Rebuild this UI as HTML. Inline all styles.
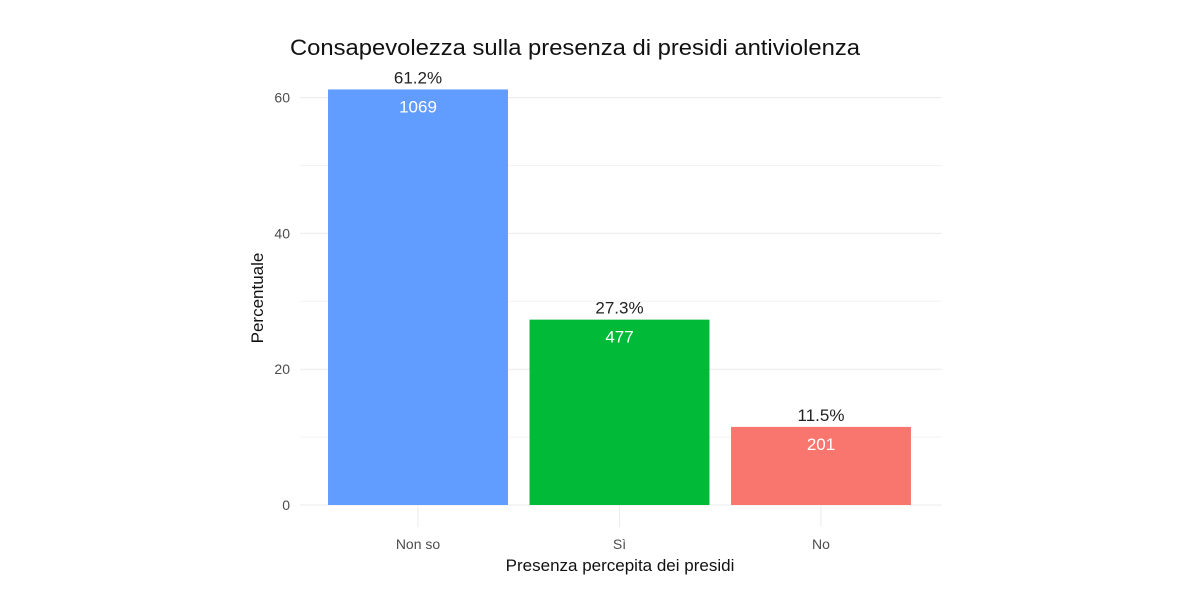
<!DOCTYPE html>
<html><head><meta charset="utf-8"><style>
body{margin:0;background:#fff;}
svg text{font-family:"Liberation Sans",sans-serif;}
</style></head><body>
<svg width="1200" height="587" viewBox="0 0 1200 587">
<text x="290" y="55" font-size="22" textLength="570" lengthAdjust="spacingAndGlyphs" fill="#111">Consapevolezza sulla presenza di presidi antiviolenza</text>
<g id="grid"></g>
<g id="bars"></g>
<g id="axes"></g>
<text x="620" y="571" font-size="17" fill="#111" text-anchor="middle">Presenza percepita dei presidi</text>
<text transform="translate(263,298) rotate(-90)" font-size="17" fill="#111" text-anchor="middle">Percentuale</text>
</svg>
<script>
const categories = ["Non so", "Sì", "No"];
const percents = [61.2, 27.3, 11.5];
const counts = [1069, 477, 201];
const colors = ["#619CFF", "#00BA38", "#F8766D"];
const yTicks = [0, 20, 40, 60];
const yMinor = [10, 30, 50];

const NS = "http://www.w3.org/2000/svg";
const gx0 = 300, gx1 = 942;
const x0 = 317.25, x1 = 921.75, y0 = 505, pxPerUnit = 6.79;
const band = (x1 - x0) / categories.length;
const barW = band * 0.893;
const yS = v => y0 - v * pxPerUnit;
const xC = i => x0 + band * (i + 0.5);
function mk(tag, attrs, parent){const e=document.createElementNS(NS,tag);for(const k in attrs)e.setAttribute(k,attrs[k]);parent.appendChild(e);return e;}
const grid = document.getElementById('grid'), bars = document.getElementById('bars'), axes = document.getElementById('axes');
yMinor.forEach(v=>{const l=mk('line',{x1:gx0,x2:gx1,y1:yS(v),y2:yS(v),stroke:'#f3f3f3','stroke-width':1},grid);

});
yTicks.forEach(v=>{const l=mk('line',{x1:gx0,x2:gx1,y1:yS(v),y2:yS(v),stroke:'#ebebeb','stroke-width':1},grid);


const t=mk('text',{x:290,y:yS(v)+5,'font-size':14,fill:'#4d4d4d','text-anchor':'end'},axes);t.textContent=v;

});
categories.forEach((c,i)=>{const l=mk('line',{x1:xC(i),x2:xC(i),y1:yS(percents[i]),y2:y0+22,stroke:'#ebebeb','stroke-width':1},grid);


const r=mk('rect',{x:xC(i)-barW/2,y:yS(percents[i]),width:barW,height:y0-yS(percents[i]),fill:colors[i]},bars);


const p=mk('text',{x:xC(i),y:yS(percents[i])-6,'font-size':17,fill:'#222','text-anchor':'middle'},bars);p.textContent=percents[i].toFixed(1)+'%';


const n=mk('text',{x:xC(i),y:yS(percents[i])+23,'font-size':17,fill:'#fff','text-anchor':'middle'},bars);n.textContent=counts[i];


const t=mk('text',{x:xC(i),y:549,'font-size':14,fill:'#4d4d4d','text-anchor':'middle'},axes);t.textContent=c;

});
</script>
</body></html>
